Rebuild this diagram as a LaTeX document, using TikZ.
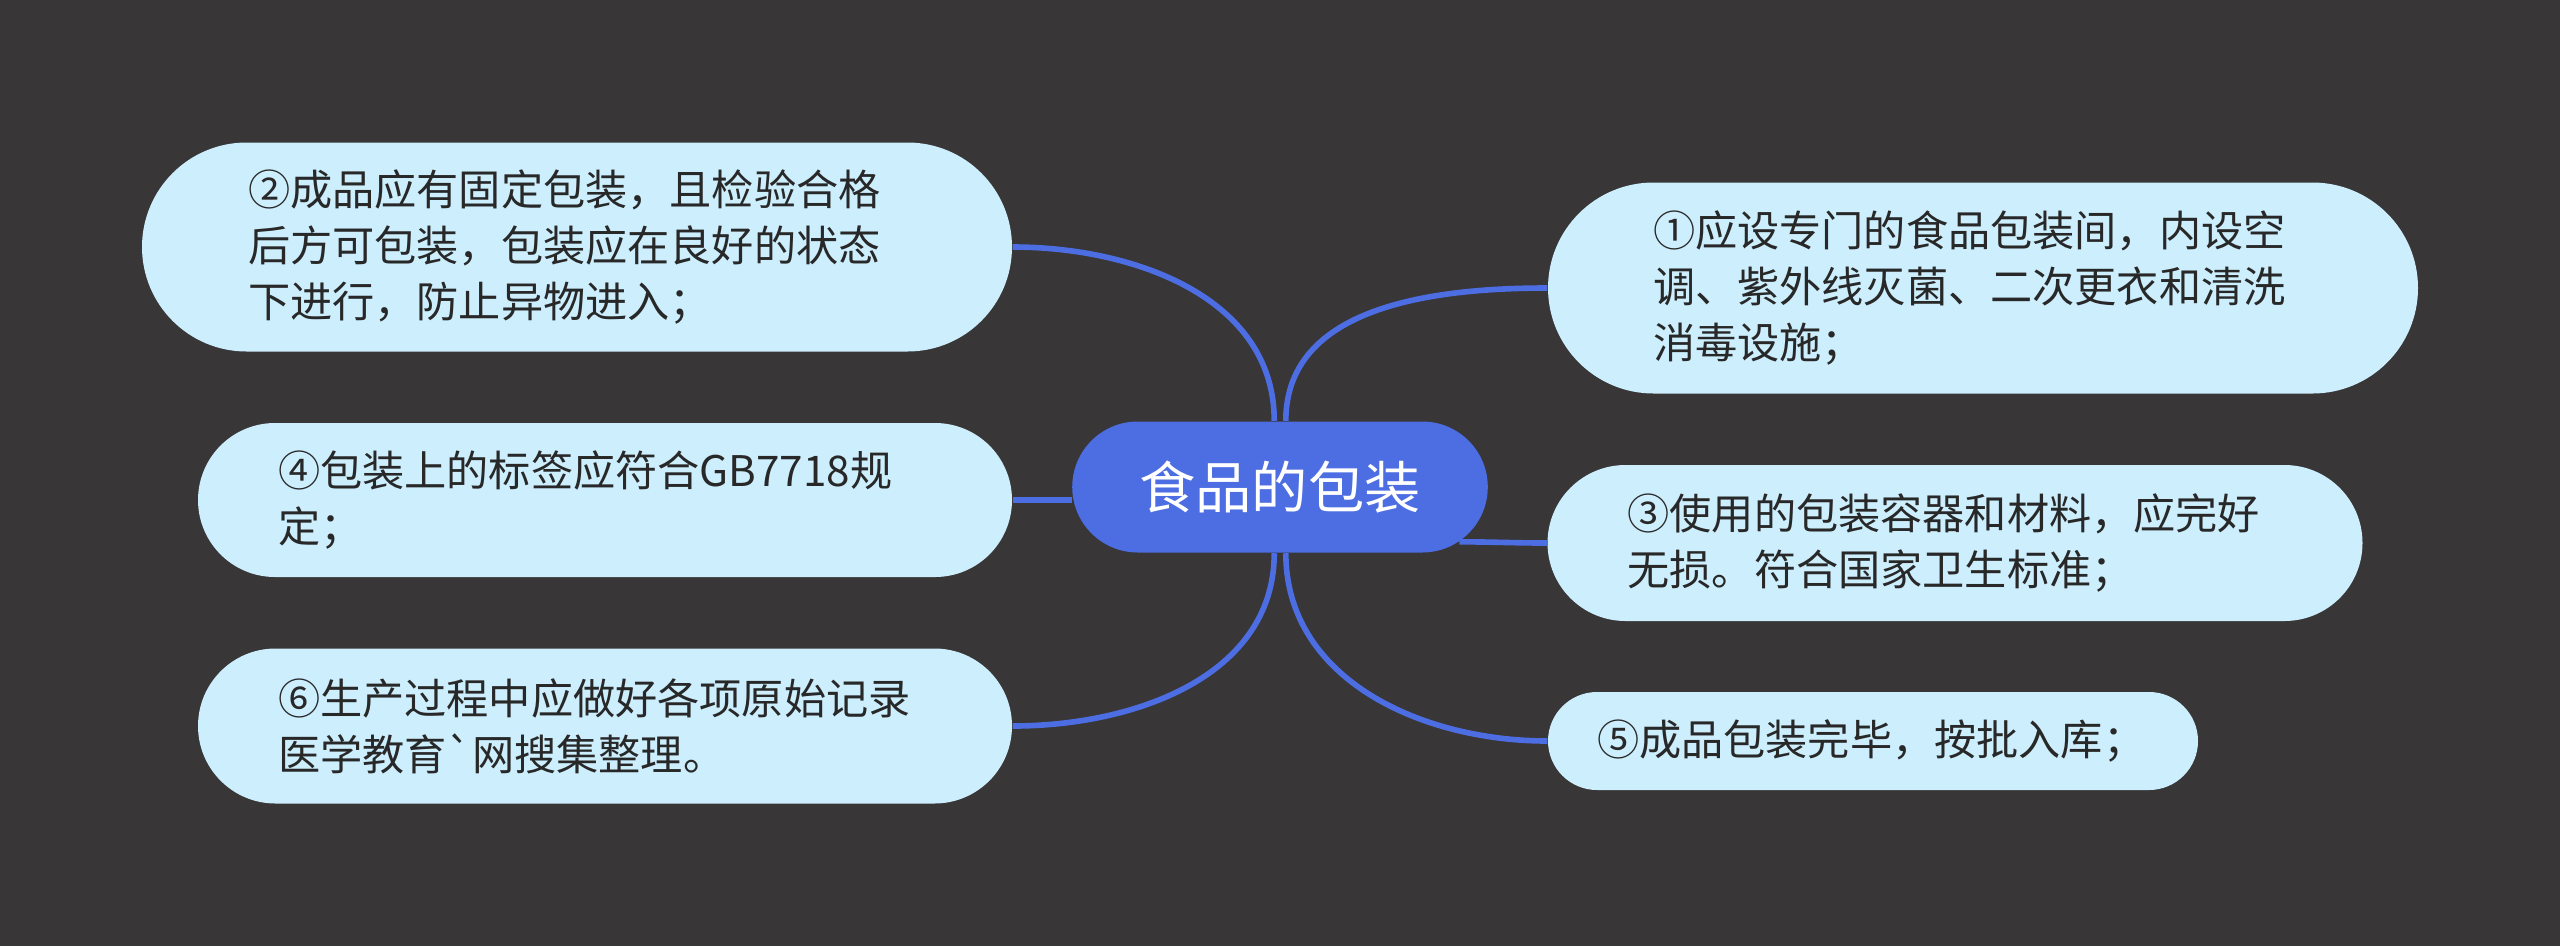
\documentclass[tikz,border=0pt]{standalone}
\usepackage{fontspec}
\setmainfont{Noto Sans CJK SC}[Ligatures=TeXOff]
\definecolor{mapBg}{RGB}{56, 54, 55}
\definecolor{mapBlue}{RGB}{76, 110, 226}
\definecolor{mapLight}{RGB}{204, 238, 253}
\definecolor{mapText}{RGB}{40, 40, 40}
\usepackage{tikz}
\usetikzlibrary{shapes.misc}

\begin{document}
\begin{tikzpicture}[
      every node/.style={font=\fontsize{12}{16}\selectfont},
      topic/.style={rounded rectangle, fill=mapBlue, text=white, minimum width=4.39cm, minimum height=1.31cm, font=\fontsize{16}{20}\selectfont},
      branch/.style={rounded rectangle, fill=mapLight, text=mapText, align=left, inner xsep=0pt},
      link/.style={mapBlue, line width=1.6pt}
    ]
      \fill[mapBg] (0,0) rectangle (25.6,-9.46);

      \node[topic] (root) at (12.80,-4.87) {食品的包装};
      \node[branch, minimum width=8.70cm, minimum height=2.09cm, text width=6.58cm] (n2) at (5.77,-2.47) {②成品应有固定包装，且检验合格\\后方可包装，包装应在良好的状态\\下进行，防止异物进入；};
      \node[branch, minimum width=8.70cm, minimum height=2.11cm, text width=6.60cm] (n1) at (19.83,-2.88) {①应设专门的食品包装间，内设空\\调、紫外线灭菌、二次更衣和清洗\\消毒设施；};
      \node[branch, minimum width=8.14cm, minimum height=1.54cm, text width=6.54cm] (n4) at (6.05,-5.00) {④包装上的标签应符合GB7718规\\定；};
      \node[branch, minimum width=8.15cm, minimum height=1.56cm, text width=6.55cm] (n3) at (19.55,-5.43) {③使用的包装容器和材料，应完好\\无损。符合国家卫生标准；};
      \node[branch, minimum width=8.14cm, minimum height=1.55cm, text width=6.54cm] (n6) at (6.05,-7.26) {⑥生产过程中应做好各项原始记录\\医学教育`网搜集整理。};
      \node[branch, minimum width=6.50cm, minimum height=0.98cm, text width=5.52cm] (n5) at (18.73,-7.41) {⑤成品包装完毕，按批入库；};

      \draw[link] (root.95) to[out=90, in=0] (n2.east);
      \draw[link] (root.85) to[out=90, in=180] (n1.west);
      \draw[link] (n4.east) -- (n4.east -| root.west);
      \draw[link] (root.-17) to[out=0, in=180] (n3.west);
      \draw[link] (root.265) to[out=270, in=0] (n6.east);
      \draw[link] (root.275) to[out=270, in=180] (n5.west);
    \end{tikzpicture}
\end{document}
